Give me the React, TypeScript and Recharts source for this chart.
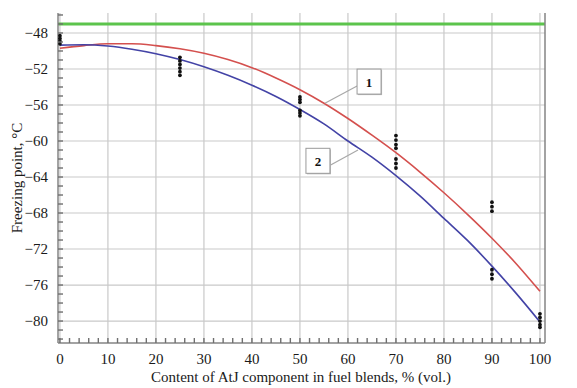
import {
  ComposedChart,
  Line,
  Scatter,
  XAxis,
  YAxis,
  ReferenceLine,
  ReferenceDot,
  Label,
} from "recharts";

// AtJ content, % (vol.) where the fitted curves were read
const blendPct = [0, 5, 10, 15, 20, 25, 30, 35, 40, 45, 50, 55, 60, 65, 70, 75, 80, 85, 90, 95, 100];
// curve 1 (red) and curve 2 (blue), freezing point °C
const curve1 = [-49.7, -49.4, -49.2, -49.2, -49.4, -49.75, -50.25, -50.95, -51.85, -53.0, -54.3, -55.8, -57.5, -59.35, -61.3, -63.45, -65.75, -68.2, -70.8, -73.6, -76.7];
const curve2 = [-49.35, -49.3, -49.45, -49.8, -50.3, -50.95, -51.75, -52.7, -53.8, -55.05, -56.5, -58.1, -60.0, -61.8, -63.85, -66.1, -68.6, -71.1, -73.9, -76.9, -80.1];

// measured samples
const sampleX = [0, 0, 0, 0, 25, 25, 25, 25, 25, 25, 50, 50, 50, 50, 50, 50, 70, 70, 70, 70, 70, 70, 70, 90, 90, 90, 90, 90, 90, 100, 100, 100, 100, 100];
const sampleY = [-48.3, -48.6, -48.9, -49.2, -50.7, -51.1, -51.5, -51.9, -52.3, -52.7, -55.1, -55.4, -55.7, -56.6, -56.9, -57.2, -59.4, -59.9, -60.4, -60.8, -62.0, -62.5, -63.0, -66.8, -67.3, -67.8, -74.3, -74.8, -75.3, -79.2, -79.6, -80.0, -80.4, -80.7];

const xTicks = [0, 10, 20, 30, 40, 50, 60, 70, 80, 90, 100];
const yTicks = [-48, -52, -56, -60, -64, -68, -72, -76, -80];
const specLimit = -47;

const xMinor = Array.from({ length: 51 }, (_, i) => i * 2);
const yMinor = Array.from({ length: 37 }, (_, i) => -46 - i);

const callouts = [
  { name: "1", x: 64.4, y: -53.4, from: { x: 61.9, y: -53.9 }, to: { x: 55.2, y: -55.8 } },
  { name: "2", x: 53.75, y: -62.2, from: { x: 56.3, y: -62.7 }, to: { x: 62.1, y: -61.0 } },
];

const rows = blendPct.map((x, i) => ({ x, red: curve1[i], blue: curve2[i] }));
const samples = sampleX.map((x, i) => ({ x, y: sampleY[i] }));

const FONT = "'Liberation Serif', 'DejaVu Serif', serif";
const axisGray = "#858585";
const tickGray = "#6f6f6f";
const gridGray = "#c9c9c9";
const X_DOMAIN: [number, number] = [-0.4, 101.05];
const Y_DOMAIN: [number, number] = [-82.44, -45.78];
const GAP = 10; // tickMargin of the labelled axes
const TICK = 5;

const minus = (v: number) => (v < 0 ? `\u2212${Math.abs(v)}` : `${v}`);
const isMajorX = (v: number) => xTicks.includes(v);
const isMajorY = (v: number) => yTicks.includes(v);

// ticks are drawn by hand so they point into the plot
const BottomTick = ({ x, y, payload }: any) => {
  const axisY = y - GAP;
  const v = payload.value;
  return (
    <g>
      <path d={`M${x},${axisY}V${axisY - TICK}`} stroke={tickGray} strokeWidth={1.4} fill="none" />
      {isMajorX(v) && (
        <text x={x} y={y} dy="0.71em" textAnchor="middle" fontSize={15} fontFamily={FONT} fill="#1a1a1a">
          {v}
        </text>
      )}
    </g>
  );
};

const TopTick = ({ x, y }: any) => (
  <path d={`M${x},${y}V${y + TICK}`} stroke={tickGray} strokeWidth={1.4} fill="none" />
);

const LeftTick = ({ x, y, payload }: any) => {
  const axisX = x + GAP;
  const v = payload.value;
  return (
    <g>
      <path d={`M${axisX},${y}H${axisX + TICK}`} stroke={tickGray} strokeWidth={1.4} fill="none" />
      {isMajorY(v) && (
        <text x={x} y={y} dy="0.355em" textAnchor="end" fontSize={15} fontFamily={FONT} fill="#1a1a1a">
          {minus(v)}
        </text>
      )}
    </g>
  );
};

const RightTick = ({ x, y, payload }: any) => {
  const axisX = x - 8;
  const v = payload.value;
  return (
    <g>
      <path d={`M${axisX},${y}H${axisX - TICK}`} stroke={tickGray} strokeWidth={1.4} fill="none" />
      {isMajorY(v) && (
        <text x={x} y={y} dy="0.355em" textAnchor="start" fontSize={15} fontFamily={FONT} fill="#1a1a1a">
          {minus(v)}
        </text>
      )}
    </g>
  );
};

const CalloutBox = (props: any) => {
  const { cx, cy, name } = props;
  return (
    <g>
      <rect x={cx - 11} y={cy - 11.5} width={24} height={25} fill="#b8b8b8" />
      <rect x={cx - 12} y={cy - 12.5} width={24} height={25} fill="#fff" stroke="#9a9a9a" />
      <text x={cx} y={cy + 5} textAnchor="middle" fontSize={13} fontWeight="bold" fontFamily={FONT} fill="#111">
        {name}
      </text>
    </g>
  );
};

export default function App() {
  return (
    <div style={{ position: "absolute", left: 0, top: 0, background: "#fff" }}>
      <ComposedChart width={577} height={388} data={rows} margin={{ top: 13, right: 0, bottom: 0, left: 0 }}>
        {xTicks.map((t) => (
          <ReferenceLine key={`gx${t}`} x={t} stroke={gridGray} strokeWidth={1.2} />
        ))}
        {yTicks.map((t) => (
          <ReferenceLine key={`gy${t}`} y={t} stroke={gridGray} strokeWidth={1.2} />
        ))}
        <XAxis
          dataKey="x"
          type="number"
          domain={X_DOMAIN}
          ticks={xMinor}
          interval={0}
          height={45}
          tickSize={0}
          tickMargin={GAP}
          axisLine={{ stroke: axisGray, strokeWidth: 1.5 }}
          tickLine={false}
          tick={BottomTick}
        >
          <Label
            content={() => (
              <text x={301} y={382} textAnchor="middle" fontSize={15} fontFamily={FONT} fill="#1a1a1a">
                Content of AtJ component in fuel blends, % (vol.)
              </text>
            )}
          />
        </XAxis>
        <XAxis
          xAxisId="top"
          orientation="top"
          type="number"
          domain={X_DOMAIN}
          ticks={xMinor}
          interval={0}
          height={0}
          tickSize={0}
          tickMargin={0}
          axisLine={{ stroke: axisGray, strokeWidth: 1.5 }}
          tickLine={false}
          tick={TopTick}
        />
        <YAxis
          type="number"
          domain={Y_DOMAIN}
          ticks={yMinor}
          interval={0}
          width={58}
          tickSize={0}
          tickMargin={GAP}
          axisLine={{ stroke: axisGray, strokeWidth: 1.5 }}
          tickLine={false}
          tick={LeftTick}
        >
          <Label
            content={() => (
              <text
                x={22}
                y={178}
                transform="rotate(-90 22 178)"
                textAnchor="middle"
                fontSize={15}
                fontFamily={FONT}
                fill="#1a1a1a"
              >
                Freezing point, °C
              </text>
            )}
          />
        </YAxis>
        <YAxis
          yAxisId="right"
          orientation="right"
          type="number"
          domain={Y_DOMAIN}
          ticks={yMinor}
          interval={0}
          width={32}
          tickSize={0}
          tickMargin={8}
          axisLine={{ stroke: axisGray, strokeWidth: 1.5 }}
          tickLine={false}
          tick={RightTick}
        />
        <ReferenceLine y={specLimit} stroke="#5cc44c" strokeWidth={3} />
        <Line
          type="monotone"
          dataKey="red"
          stroke="#d4504e"
          strokeWidth={1.6}
          dot={false}
          isAnimationActive={false}
        />
        <Line
          type="monotone"
          dataKey="blue"
          stroke="#4343a6"
          strokeWidth={1.6}
          dot={false}
          isAnimationActive={false}
        />
        <Scatter
          data={samples}
          dataKey="y"
          fill="#111"
          isAnimationActive={false}
          shape={(p: any) => <circle cx={p.cx} cy={p.cy} r={1.9} fill="#111" />}
        />
        {callouts.map((c) => (
          <ReferenceLine key={`l${c.name}`} segment={[c.from, c.to]} stroke="#a8a8a8" strokeWidth={1.2} />
        ))}
        {callouts.map((c) => (
          <ReferenceDot key={`b${c.name}`} x={c.x} y={c.y} r={12} shape={(p: any) => <CalloutBox {...p} name={c.name} />} />
        ))}
      </ComposedChart>
    </div>
  );
}
